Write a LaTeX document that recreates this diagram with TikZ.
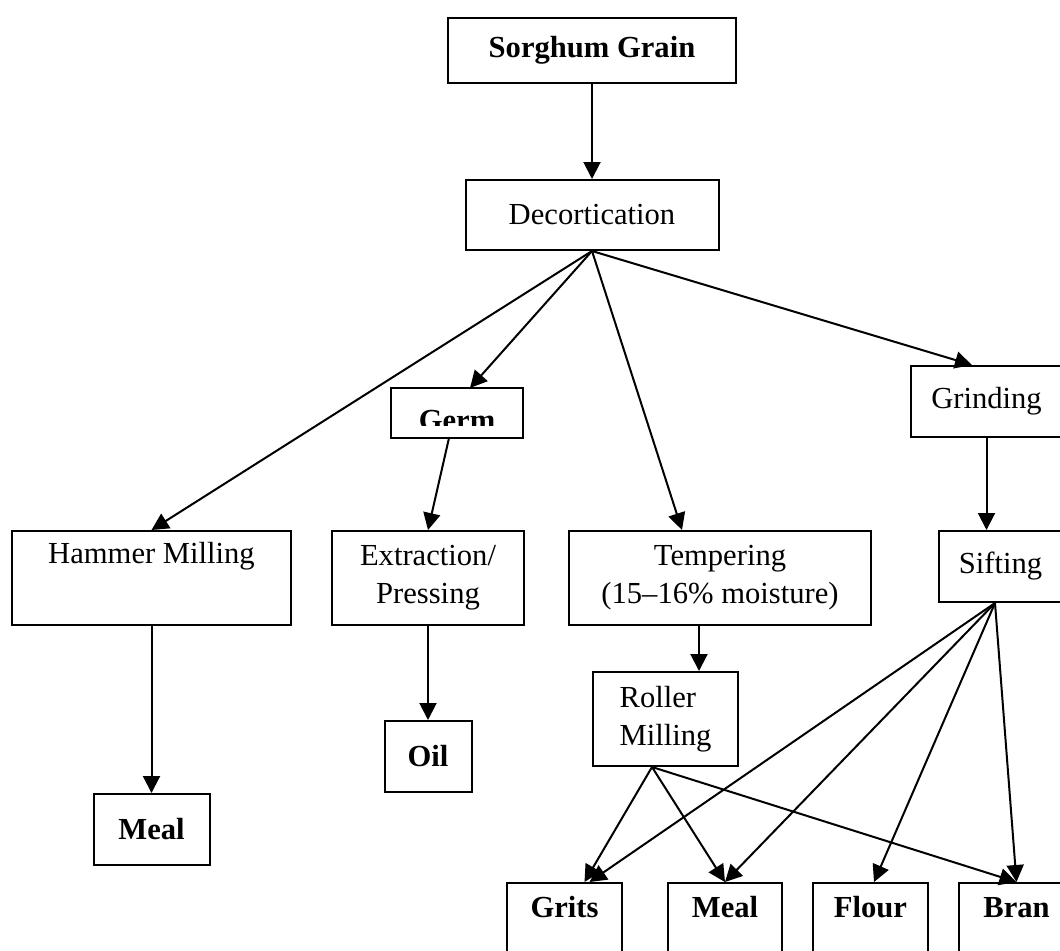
\documentclass[tikz,border=0pt]{standalone}
\usepackage{fontspec}
\setmainfont{Liberation Serif}
\usetikzlibrary{arrows.meta, positioning}

\begin{document}
\begin{tikzpicture}[
    x=0.5pt, y=-0.5pt,
    stage/.style={rectangle, draw=black, line width=1pt, inner sep=0pt, align=center, font=\fontsize{15.3}{19}\selectfont},
    product/.style={stage, font=\fontsize{15.3}{19}\selectfont\bfseries},
    flow/.style={-{Triangle[length=8.5pt,width=8.5pt]}, line width=1pt}
]
\clip (0,0) rectangle (1060,950);

\node[product, minimum width=144pt, minimum height=32.5pt] (sorghum) at (592,50.5) {Sorghum Grain};
\node[stage, minimum width=126.5pt, minimum height=35pt, below=47.5pt of sorghum] (decort) {Decortication};

% germ text is cut off by its box
\begin{scope}
\clip (392,389) rectangle (522,425);
\node[product, draw=none, minimum width=65pt, minimum height=24pt, text height=17pt, text depth=0pt] (germ) at (457,413) {Germ};
\end{scope}
\draw[line width=1pt] (germ.north west) rectangle (germ.south east);

\node[stage, minimum width=75.5pt, minimum height=35.5pt] (grind) at (986.5,401.5) {Grinding};

\node[stage, minimum width=139.5pt, minimum height=47pt] (hammer) at (151.5,578) {Hammer Milling\\\strut};
\node[stage, minimum width=96pt, minimum height=47pt, right=19.5pt of hammer] (extract) {Extraction/\\Pressing};
\node[stage, minimum width=151pt, minimum height=47pt, right=21.5pt of extract] (temper) {Tempering\\(15--16\% moisture)};
\node[stage, minimum width=61.5pt, minimum height=35.5pt] (sift) at (1000.5,566.5) {Sifting};

\node[product, minimum width=58pt, minimum height=35.5pt, below=83.5pt of hammer] (meal) {Meal};
\node[product, minimum width=43.5pt, minimum height=35.5pt, below=47pt of extract] (oil) {Oil};
\node[stage, minimum width=72.5pt, minimum height=47pt, align=left] (roller) at (665.5,719) {Roller\\Milling};

\node[product, minimum width=57.5pt, minimum height=49pt] (grits) at (564.5,932) {Grits\\\strut};
\node[product, minimum width=57pt, minimum height=49pt, right=22pt of grits] (mealb) {Meal\\\strut};
\node[product, minimum width=57.5pt, minimum height=49pt, right=14.5pt of mealb] (flour) {Flour\\\strut};
\node[product, minimum width=57.5pt, minimum height=49pt, right=14.5pt of flour] (bran) {Bran\\\strut};

% main line
\draw[flow] (sorghum.south) -- (decort.north);
\draw[flow] (decort.south) -- (hammer.north);
\draw[flow] (decort.south) -- ([xshift=6.5pt]germ.north);
\draw[flow] (decort.south) -- ([xshift=-19pt]temper.north);
\draw[flow] (decort.south) -- ([xshift=-7.25pt]grind.north);

\draw[flow] ([xshift=-4pt]germ.south) -- (extract.north);
\draw[flow] (hammer.south) -- (meal.north);
\draw[flow] (extract.south) -- (oil.north);
\draw[flow] ([xshift=-10.5pt]temper.south) -- ([xshift=-10.5pt]temper.south |- roller.north);
\draw[flow] (grind.south) -- (grind.south |- sift.north);

% roller milling products
\draw[flow] ([xshift=-6.75pt]roller.south) -- ([xshift=10pt]grits.north);
\draw[flow] ([xshift=-6.75pt]roller.south) -- (mealb.north);
\draw[flow] ([xshift=-6.75pt]roller.south) -- (bran.north);

% sifting products
\draw[flow] ([xshift=-2.75pt]sift.south) -- ([xshift=12.5pt]grits.north);
\draw[flow] ([xshift=-2.75pt]sift.south) -- (mealb.north);
\draw[flow] ([xshift=-2.75pt]sift.south) -- ([xshift=1.75pt]flour.north);
\draw[flow] ([xshift=-2.75pt]sift.south) -- (bran.north);
\end{tikzpicture}
\end{document}
